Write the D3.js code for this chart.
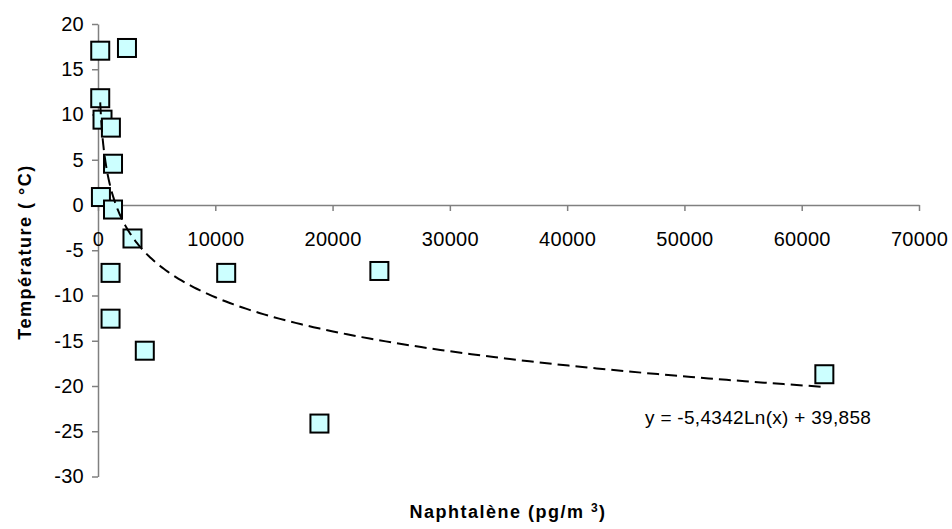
<html>
<script src="https://cdn.jsdelivr.net/npm/d3@7"></script>
<style>
  body {margin: 0; background: white;}
  text {font-family: "Liberation Sans", Arial, sans-serif; fill: black;}
</style>
<body>
<svg id="chart" width="952" height="529"></svg>
<script>
// values
const naphX = [190, 2470, 190, 385, 1100, 1280, 250, 1280, 2940, 1070, 1070, 3990, 10930, 23990, 18880, 61930];
const tempY = [17.05, 17.35, 11.8, 9.43, 8.55, 4.56, 0.88, -0.5, -3.7, -7.5, -12.56, -16.1, -7.5, -7.29, -24.15, -18.7];
const xTicks = [0, 10000, 20000, 30000, 40000, 50000, 60000, 70000];
const yTicks = [-30, -25, -20, -15, -10, -5, 0, 5, 10, 15, 20];
// log trendline coefficients, y = a*ln(x) + b
const trendA = -5.4342, trendB = 39.858;
const trendLabel = "y = -5,4342Ln(x) + 39,858";

const svg = d3.select("#chart");
const xs = d3.scaleLinear().domain([0, 70000]).range([98, 919]);
const ys = d3.scaleLinear().domain([-30, 20]).range([476.5, 24]);
const axisColor = "#808080";
const plain = d => String(d);   // hyphen minus, no thousands separator

// y axis (left side at x=0)
const yAxis = d3.axisLeft(ys).tickValues(yTicks).tickFormat(plain).tickSize(6).tickSizeOuter(0).tickPadding(8);
const gy = svg.append("g").attr("transform", "translate(" + xs(0) + ",0)").call(yAxis);
gy.select(".domain").attr("stroke", axisColor).attr("stroke-width", 1.5);
gy.selectAll(".tick line").attr("stroke", axisColor).attr("stroke-width", 1.5);
gy.selectAll(".tick text").style("font-size", "20px").style("letter-spacing", "0.3px").attr("fill", "black");

// x axis crosses at y=0, labels pushed down
const xAxis = d3.axisBottom(xs).tickValues(xTicks).tickFormat(plain).tickSize(6).tickSizeOuter(0).tickPadding(21);
const gx = svg.append("g").attr("transform", "translate(0," + ys(0) + ")").call(xAxis);
gx.select(".domain").attr("stroke", axisColor).attr("stroke-width", 1.5);
gx.selectAll(".tick line").attr("stroke", axisColor).attr("stroke-width", 1.5);
gx.selectAll(".tick text").style("font-size", "20px").style("letter-spacing", "0.3px").attr("fill", "black");

// markers
const pts = naphX.map((x, i) => ({x: x, y: tempY[i]}));
const sz = 18;
svg.append("g").selectAll("rect")
  .data(pts)
  .enter()
  .append("rect")
    .attr("x", d => xs(d.x) - sz / 2)
    .attr("y", d => ys(d.y) - sz / 2)
    .attr("width", sz)
    .attr("height", sz)
    .attr("fill", "#CCFFFF")
    .attr("stroke", "black")
    .attr("stroke-width", 2);

// trendline over the data range
const xmin = d3.min(naphX), xmax = d3.max(naphX);
const trendX = d3.range(0, 201).map(i => Math.exp(Math.log(xmin) + (Math.log(xmax) - Math.log(xmin)) * i / 200));
const line = d3.line().x(d => xs(d)).y(d => ys(trendA * Math.log(d) + trendB));
svg.append("path")
  .datum(trendX)
  .attr("d", line)
  .attr("fill", "none")
  .attr("stroke", "black")
  .attr("stroke-width", 2)
  .attr("stroke-dasharray", "12,6");

// equation label
svg.append("text")
  .attr("x", 645).attr("y", 424)
  .style("font-size", "19px")
  .style("letter-spacing", "0.3px")
  .text(trendLabel);

// axis titles
svg.append("text")
  .attr("x", 508).attr("y", 518)
  .attr("text-anchor", "middle")
  .style("font-size", "18px").style("font-weight", "bold").style("letter-spacing", "1.5px")
  .html("Naphtalène (pg/m <tspan dy='-6' style='font-size:12px'>3</tspan><tspan dy='6'>)</tspan>");

svg.append("text")
  .attr("transform", "translate(31,252) rotate(-90)")
  .attr("text-anchor", "middle")
  .style("font-size", "18px").style("font-weight", "bold").style("letter-spacing", "1.5px")
  .text("Température ( °C)");
</script>
</body>
</html>
